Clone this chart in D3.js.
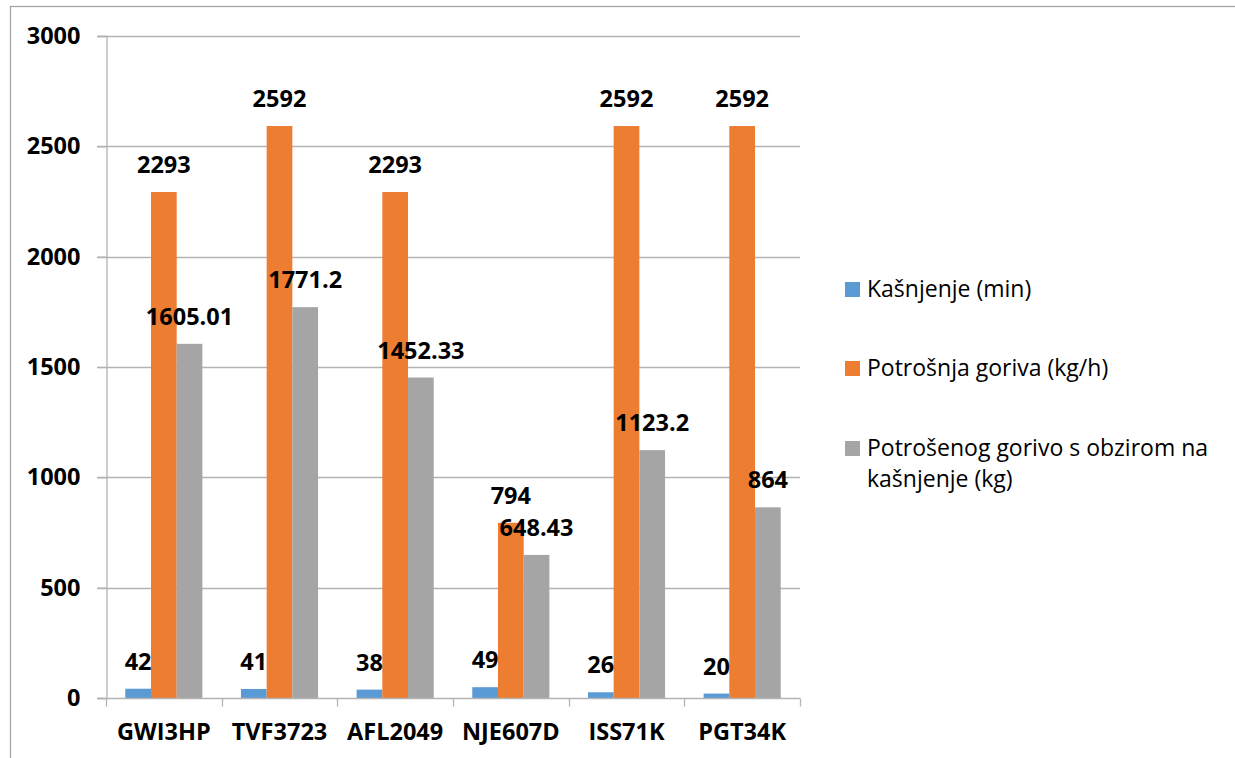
<!DOCTYPE html>
<html>
<head>
<meta charset="utf-8">
<script src="https://cdn.jsdelivr.net/npm/d3@7"></script>
<style>
  body { margin: 0; background: #fff; }
  svg { display: block; font-family: "Open Sans", "Liberation Sans", sans-serif; }
</style>
</head>
<body>
<svg id="chart" width="1235" height="758"></svg>
<script>
// data
const flights = ["GWI3HP", "TVF3723", "AFL2049", "NJE607D", "ISS71K", "PGT34K"]
const seriesNames = ["Kašnjenje (min)", "Potrošnja goriva (kg/h)", "Potrošenog gorivo s obzirom na kašnjenje (kg)"]
const delay = [42, 41, 38, 49, 26, 20]
const fuelRate = [2293, 2592, 2293, 794, 2592, 2592]
const fuelUsed = [1605.01, 1771.2, 1452.33, 648.43, 1123.2, 864]
const yTicks = [0, 500, 1000, 1500, 2000, 2500, 3000]
const colors = ["#5b9bd5", "#ed7d31", "#a5a5a5"]

const seriesValues = [delay, fuelRate, fuelUsed]

const svg = d3.select('#chart')

// outer chart border (only left and top visible)
svg.append('rect')
    .attr('x', 10.5).attr('y', 6.5)
    .attr('width', 1400).attr('height', 1000)
    .attr('fill', 'none').attr('stroke', '#a6a6a6').attr('stroke-width', 1.3)

const plotLeft = 106, plotRight = 800, plotTop = 36, plotBottom = 698
const boldSize = 23.5

const x0 = d3.scaleBand().domain(flights).range([plotLeft, plotRight]).padding(0)
const x1 = d3.scaleBand().domain(d3.range(3)).range([0, x0.bandwidth()])
    .paddingInner(0).paddingOuter(0.75)
const y = d3.scaleLinear().domain([0, 3000]).range([plotBottom, plotTop])

// gridlines
svg.append('g').selectAll('line')
    .data(yTicks.filter(d => d > 0))
    .enter().append('line')
    .attr('x1', plotLeft - 9).attr('x2', plotRight)
    .attr('y1', d => Math.round(y(d)) + 0.5).attr('y2', d => Math.round(y(d)) + 0.5)
    .attr('stroke', '#b3b3b3').attr('stroke-width', 1.3)

// y axis
const yAxis = svg.append('g')
    .attr('transform', `translate(${plotLeft + 0.5},0)`)
    .call(d3.axisLeft(y).tickValues(yTicks).tickSize(9).tickPadding(17).tickFormat(d3.format('d')))
yAxis.select('.domain').attr('stroke', '#b3b3b3').attr('stroke-width', 1.3)
yAxis.selectAll('.tick line').attr('stroke', '#b3b3b3').attr('stroke-width', 1.3)
yAxis.selectAll('.tick text')
    .attr('font-family', '"Open Sans", sans-serif')
    .attr('font-size', boldSize).attr('font-weight', 'bold').attr('fill', '#000')

// bars
const groups = svg.append('g').selectAll('g')
    .data(flights)
    .enter().append('g')
    .attr('transform', d => `translate(${x0(d)},0)`)

groups.selectAll('rect')
    .data((d, i) => seriesValues.map((s, k) => ({ k: k, v: s[i] })))
    .enter().append('rect')
    .attr('x', d => x1(d.k))
    .attr('y', d => y(d.v))
    .attr('width', x1.bandwidth())
    .attr('height', d => plotBottom - y(d.v))
    .attr('fill', d => colors[d.k])

groups.selectAll('text')
    .data((d, i) => seriesValues.map((s, k) => ({ k: k, v: s[i] })))
    .enter().append('text')
    .attr('x', d => x1(d.k) + x1.bandwidth() / 2)
    .attr('y', d => y(d.v) - 19)
    .attr('text-anchor', 'middle')
    .attr('font-size', boldSize).attr('font-weight', 'bold')
    .text(d => d.v)

// x axis
const xAxis = svg.append('g')
    .attr('transform', `translate(0,${plotBottom + 0.5})`)
xAxis.append('line')
    .attr('x1', plotLeft - 9).attr('x2', plotRight)
    .attr('stroke', '#b3b3b3').attr('stroke-width', 1.3)
xAxis.selectAll('.tk')
    .data(flights.map(f => x0(f)).concat([plotRight]))
    .enter().append('line')
    .attr('x1', d => Math.round(d) + 0.5).attr('x2', d => Math.round(d) + 0.5)
    .attr('y1', 0).attr('y2', 8)
    .attr('stroke', '#b3b3b3').attr('stroke-width', 1.3)
xAxis.selectAll('text')
    .data(flights)
    .enter().append('text')
    .attr('x', d => x0(d) + x0.bandwidth() / 2)
    .attr('y', 41.5)
    .attr('text-anchor', 'middle')
    .attr('font-size', boldSize).attr('font-weight', 'bold')
    .text(d => d)

// legend
const legendY = [297, 376, 456]
const legend = svg.append('g')
seriesNames.forEach((name, i) => {
    legend.append('rect')
        .attr('x', 845).attr('y', legendY[i] - 15)
        .attr('width', 15).attr('height', 15)
        .attr('fill', colors[i])
    const t = legend.append('text')
        .attr('x', 867).attr('y', legendY[i])
        .attr('font-size', 23).attr('fill', '#000')
    if (i == 2) {
        t.append('tspan').attr('x', 867).text('Potrošenog gorivo s obzirom na')
        t.append('tspan').attr('x', 867).attr('dy', 31).text('kašnjenje (kg)')
    } else {
        t.text(name)
    }
})
</script>
</body>
</html>
